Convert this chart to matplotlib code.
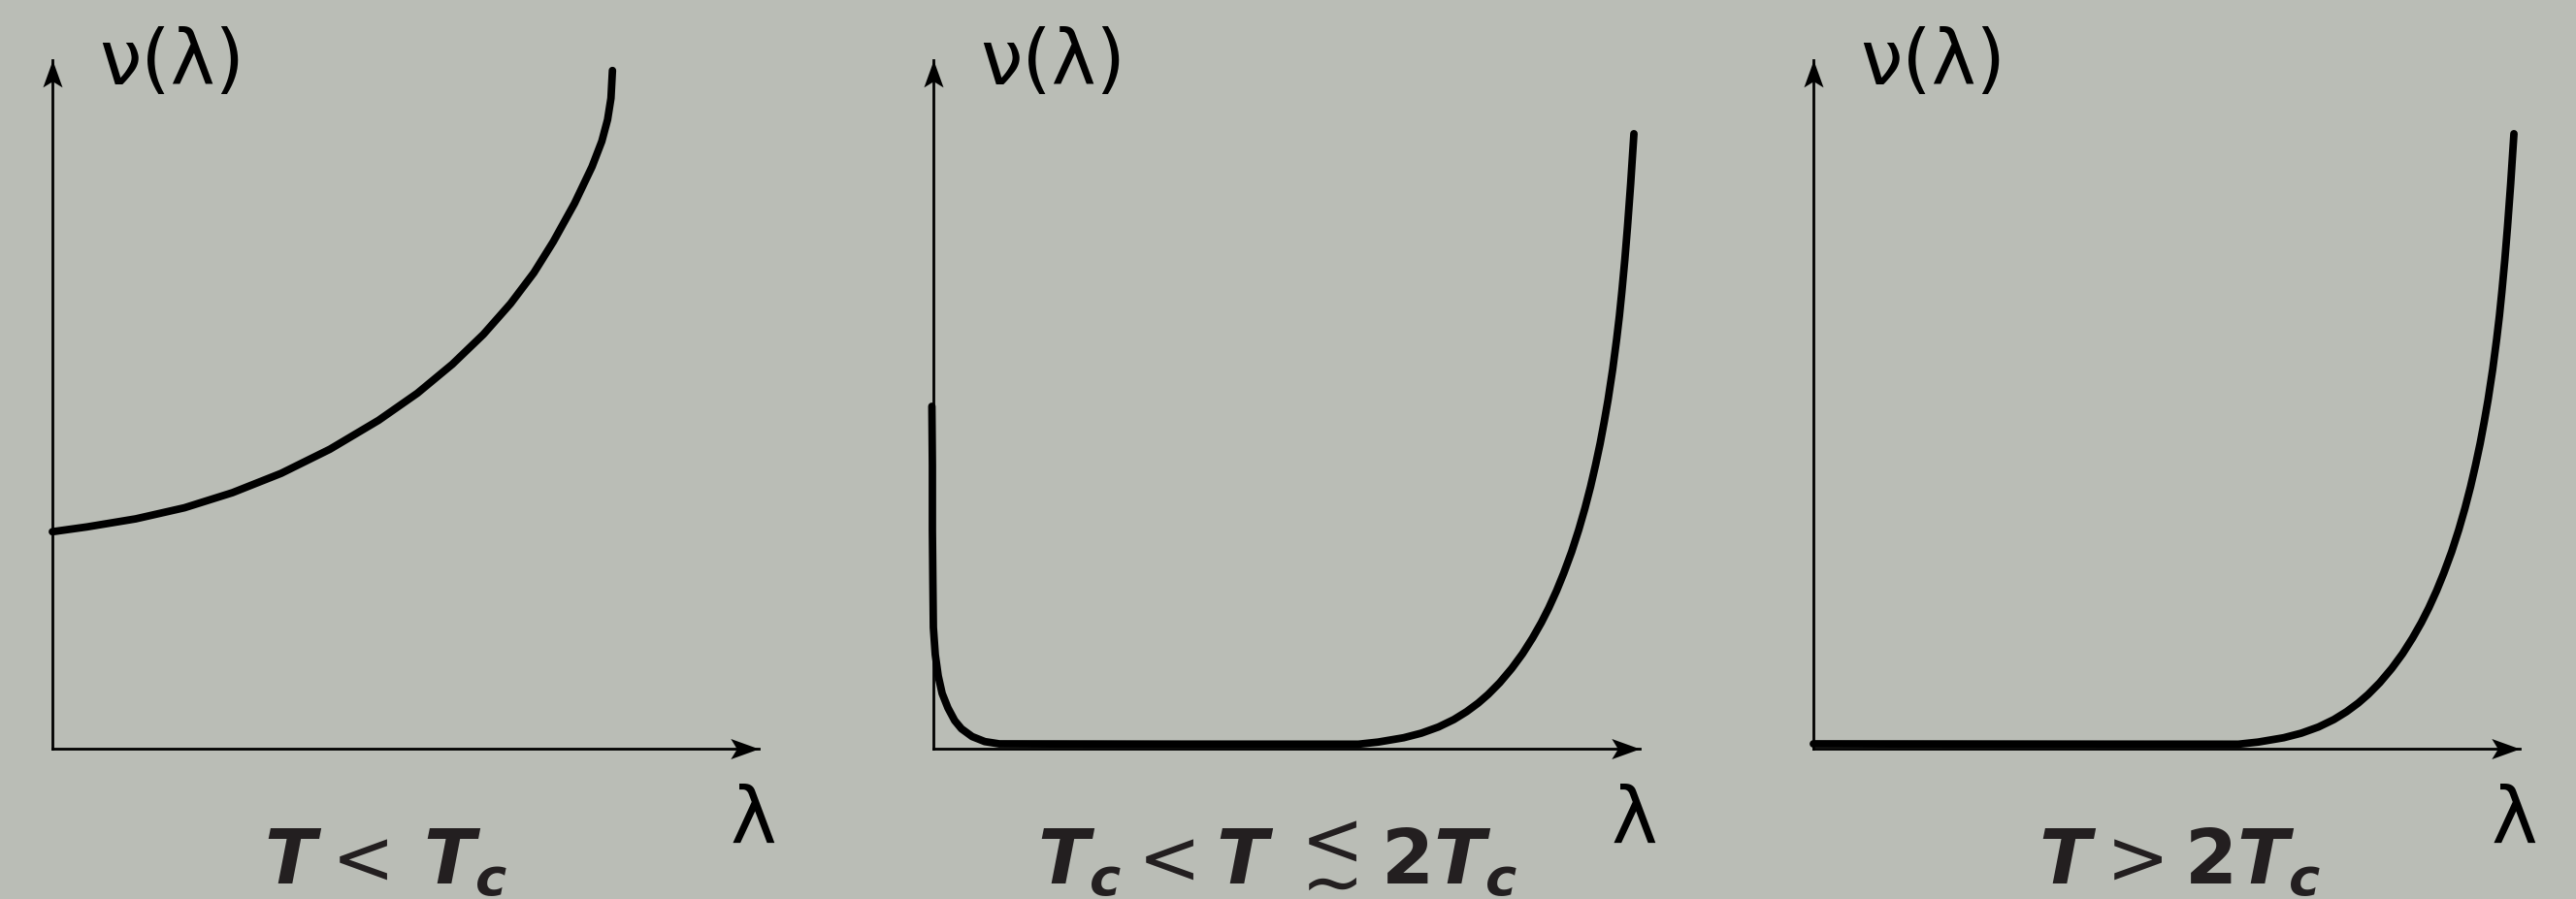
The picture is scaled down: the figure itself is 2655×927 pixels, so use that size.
import matplotlib
matplotlib.use("Agg")
import matplotlib.pyplot as plt
from matplotlib.path import Path

plt.rcParams["mathtext.fontset"] = "custom"
plt.rcParams["mathtext.rm"] = "DejaVu Sans"
plt.rcParams["mathtext.it"] = "DejaVu Sans:italic:bold"
plt.rcParams["mathtext.bf"] = "DejaVu Sans:bold"

BG = "#babdb6"
INK = "#231f20"

# curve samples: lambda in units of the x-axis length,
# nu in units of the y-axis length
p1_lam = [0.0, 0.0490, 0.1180, 0.1870, 0.2549, 0.3239, 0.3929, 0.4618, 0.5168,
          0.5662, 0.6102, 0.6486, 0.6816, 0.7091, 0.7393, 0.7640, 0.7778,
          0.7860, 0.7908, 0.7929]
p1_nu = [0.3151, 0.3221, 0.3338, 0.3499, 0.3718, 0.3999, 0.4349, 0.4769, 0.5163,
         0.5583, 0.6017, 0.6463, 0.6911, 0.7362, 0.7921, 0.8452, 0.8820,
         0.9135, 0.9446, 0.9849]

# left branch of the middle panel (steep drop at small lambda)
p2_left_lam = [-0.0021, -0.0014, -0.0014, -0.0007, 0.0, 0.0027, 0.0069, 0.0124,
               0.0206, 0.0302, 0.0398, 0.0549, 0.0728, 0.0934, 0.35]
p2_left_nu = [0.4972, 0.4113, 0.3169, 0.2423, 0.1761, 0.1366, 0.1056, 0.0803,
              0.0592, 0.0408, 0.0289, 0.0176, 0.0103, 0.0070, 0.0066]

# flat start of the right panel
p3_left_lam = [0.0, 0.2, 0.4]
p3_left_nu = [0.0070, 0.0068, 0.0066]

# rising branch, same shape in the middle and right panels
rise_lam = [0.6016, 0.6295, 0.6658, 0.6907, 0.7151, 0.7368, 0.7548, 0.7713,
            0.7853, 0.8018, 0.8188, 0.8342, 0.8482, 0.8607, 0.8713, 0.8824,
            0.8924, 0.9036, 0.9136, 0.9225, 0.9304, 0.9375, 0.9440, 0.9497,
            0.9551, 0.9617, 0.9673, 0.9712, 0.9747, 0.9789, 0.9827, 0.9872, 0.9918]
rise_nu = [0.0065, 0.0096, 0.0159, 0.0225, 0.0315, 0.0423, 0.0537, 0.0662,
           0.0787, 0.0958, 0.1165, 0.1380, 0.1606, 0.1831, 0.2045, 0.2296,
           0.2548, 0.2859, 0.3177, 0.3493, 0.3806, 0.4121, 0.4435, 0.4746,
           0.5063, 0.5507, 0.5944, 0.6282, 0.6634, 0.7099, 0.7577, 0.8207, 0.8931]

# pixel layout of the panels
W, H, DPI = 2655, 927, 100
origins_x = [54, 962, 1869]
origin_y = 772
sx, sy = 728.0, 710.0
label_base = -0.197

ARROW_R = Path([(0, 0), (-1, 0.36), (-0.78, 0), (-1, -0.36), (0, 0)],
               [Path.MOVETO, Path.LINETO, Path.LINETO, Path.LINETO, Path.CLOSEPOLY])
ARROW_U = Path([(0, 0), (0.36, -1), (0, -0.78), (-0.36, -1), (0, 0)],
               [Path.MOVETO, Path.LINETO, Path.LINETO, Path.LINETO, Path.CLOSEPOLY])

fig = plt.figure(figsize=(W / DPI, H / DPI), dpi=DPI, facecolor=BG)

curves = [
    [(p1_lam, p1_nu)],
    [(p2_left_lam, p2_left_nu), (rise_lam, rise_nu)],
    [(p3_left_lam, p3_left_nu), (rise_lam, rise_nu)],
]

axes = []
for i, ox in enumerate(origins_x):
    left_px, right_px, top_px = ox - 60, ox + 800, 10
    ax = fig.add_axes([left_px / W, 0, (right_px - left_px) / W, (H - top_px) / H])
    ax.set_xlim((left_px - ox) / sx, (right_px - ox) / sx)
    ax.set_ylim((origin_y - H) / sy, (origin_y - top_px) / sy)
    ax.axis("off")
    axes.append(ax)

    # axes with arrow heads
    ax.plot([0, 1], [0, 0], color="black", lw=2.0, clip_on=False, zorder=2)
    ax.plot([0, 0], [0, 1], color="black", lw=2.0, clip_on=False, zorder=2)
    ax.plot([1], [0], marker=ARROW_R, ms=42, color="black", mew=0, clip_on=False, zorder=3)
    ax.plot([0], [1], marker=ARROW_U, ms=40, color="black", mew=0, clip_on=False, zorder=3)

    xs, ys = [], []
    for lam, nu in curves[i]:
        xs += lam
        ys += nu
    ax.plot(xs, ys, color="black", lw=5.6, solid_capstyle="round",
            solid_joinstyle="round", clip_on=False, zorder=4)

    ax.text(0.066, 0.965, "ν(λ)", fontsize=56, ha="left", va="baseline",
            family="DejaVu Sans")
    ax.text(0.992, -0.137, "λ", fontsize=58, ha="center", va="baseline",
            family="DejaVu Sans")

# panel labels
axes[0].text(0.471, label_base, r"$T < \,T_c$", fontsize=56, ha="center",
             va="baseline", color=INK)
axes[2].text(0.519, label_base, r"$T > \mathbf{2}T_c$", fontsize=56, ha="center",
             va="baseline", color=INK)

# middle label in pieces: the "less than or about" sign is a raised < over a ~
ax = axes[1]
ax.text(0.147, label_base, r"$T_c < T$", fontsize=56, ha="left", va="baseline",
        color=INK)
ax.text(0.5646, -0.231, "<\n∼", fontsize=56, ha="center", va="baseline",
        multialignment="center", linespacing=0.45, color=INK, family="DejaVu Sans")
ax.text(0.633, label_base, r"$\mathbf{2}T_c$", fontsize=56, ha="left",
        va="baseline", color=INK)

fig.savefig("out.png", dpi=DPI, facecolor=BG)
